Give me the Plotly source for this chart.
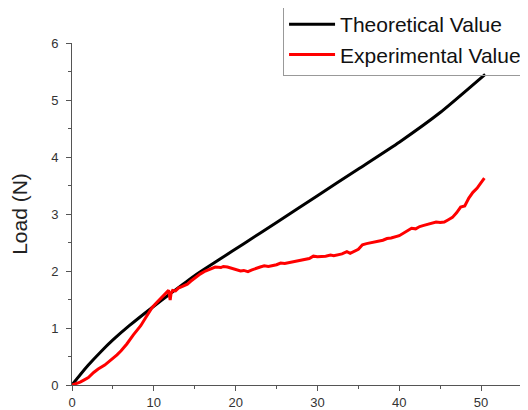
import plotly.graph_objects as go

theory_x = [0, 1, 2, 3.5, 5, 7, 9.8, 12, 14.9, 18, 21, 25, 30, 35, 40, 45, 50.5]
theory_y = [0, 0.18, 0.35, 0.58, 0.79, 1.04, 1.36, 1.6, 1.91, 2.2, 2.48, 2.85, 3.32, 3.79, 4.26, 4.78, 5.45]

exp_x = [0, 0.5, 1, 1.5, 2, 2.65, 3.2, 4, 4.7, 5.5, 6, 6.7, 7.5, 8, 8.4, 9, 9.8,
         10.3, 10.8, 11.3, 11.6, 11.8, 11.9, 12.0, 12.1, 12.3, 12.65, 13, 13.5, 14.1, 14.5,
         15, 15.7, 16.3, 16.9, 17.5, 18.2, 18.5, 19, 19.5, 20, 20.6, 21, 21.5, 22, 22.5,
         23, 23.5, 24, 25, 25.5, 26, 27, 27.9, 29, 29.5, 30, 31, 31.6, 32, 33, 33.6, 34,
         35, 35.5, 36, 37, 38, 38.5, 39, 40, 40.5, 41, 41.5, 42, 42.5, 43, 44, 44.5, 45,
         45.5, 46, 46.5, 47, 47.5, 48, 48.5, 49, 49.5, 50, 50.4]
exp_y = [0, 0.02, 0.05, 0.09, 0.13, 0.22, 0.28, 0.35, 0.43, 0.53, 0.6, 0.72, 0.88, 0.97,
         1.04, 1.18, 1.36, 1.44, 1.51, 1.58, 1.63, 1.66, 1.58, 1.49, 1.6, 1.66, 1.65, 1.7,
         1.73, 1.77, 1.82, 1.88, 1.95, 2.0, 2.04, 2.07, 2.06, 2.08, 2.07, 2.05, 2.02, 2.0,
         2.01, 1.99, 2.02, 2.05, 2.07, 2.09, 2.08, 2.11, 2.14, 2.13, 2.16, 2.19, 2.22, 2.26,
         2.25, 2.26, 2.28, 2.27, 2.3, 2.34, 2.31, 2.38, 2.46, 2.48, 2.51, 2.54, 2.57, 2.58,
         2.62, 2.66, 2.7, 2.75, 2.74, 2.78, 2.8, 2.84, 2.86, 2.85, 2.86, 2.9, 2.94, 3.02,
         3.12, 3.14, 3.28, 3.38, 3.45, 3.55, 3.63]

font = "Liberation Sans, Arial, sans-serif"

fig = go.Figure()
fig.add_trace(go.Scatter(x=theory_x, y=theory_y, mode="lines", name="Theoretical Value",
                         line=dict(color="black", width=3, shape="spline", smoothing=0.5)))
fig.add_trace(go.Scatter(x=exp_x, y=exp_y, mode="lines", name="Experimental Value",
                         line=dict(color="#ff0000", width=3)))

axis_common = dict(showgrid=False, zeroline=False, showline=True, linecolor="#555555",
                   linewidth=1, ticks="outside", ticklen=5, tickcolor="#555555",
                   automargin=False,
                   tickfont=dict(family=font, size=13, color="#333333"))

fig.update_xaxes(range=[0, 55], dtick=10, tick0=0,
                 minor=dict(dtick=5, ticks="outside", ticklen=3, tickcolor="#555555"),
                 **axis_common)
fig.update_yaxes(range=[0, 6], dtick=1, tick0=0, ticklabelstandoff=5,
                 minor=dict(dtick=0.5, ticks="outside", ticklen=3, tickcolor="#555555"),
                 title=dict(text="Load (N)", font=dict(family=font, size=21, color="#222222"),
                            standoff=18),
                 **axis_common)

# page body has an 8px margin, so the figure is sized to the visible area
fig.update_layout(
    width=520, height=402,
    margin=dict(l=64, r=6, t=35, b=25, autoexpand=False),
    plot_bgcolor="white", paper_bgcolor="white",
    legend=dict(x=0.469, y=1.117, xanchor="left", yanchor="top",
                bordercolor="#999999", borderwidth=1, bgcolor="rgba(255,255,255,0)",
                itemwidth=46,
                font=dict(family=font, size=21, color="#111111"),
                tracegroupgap=0),
)

fig.write_html("out.html")
